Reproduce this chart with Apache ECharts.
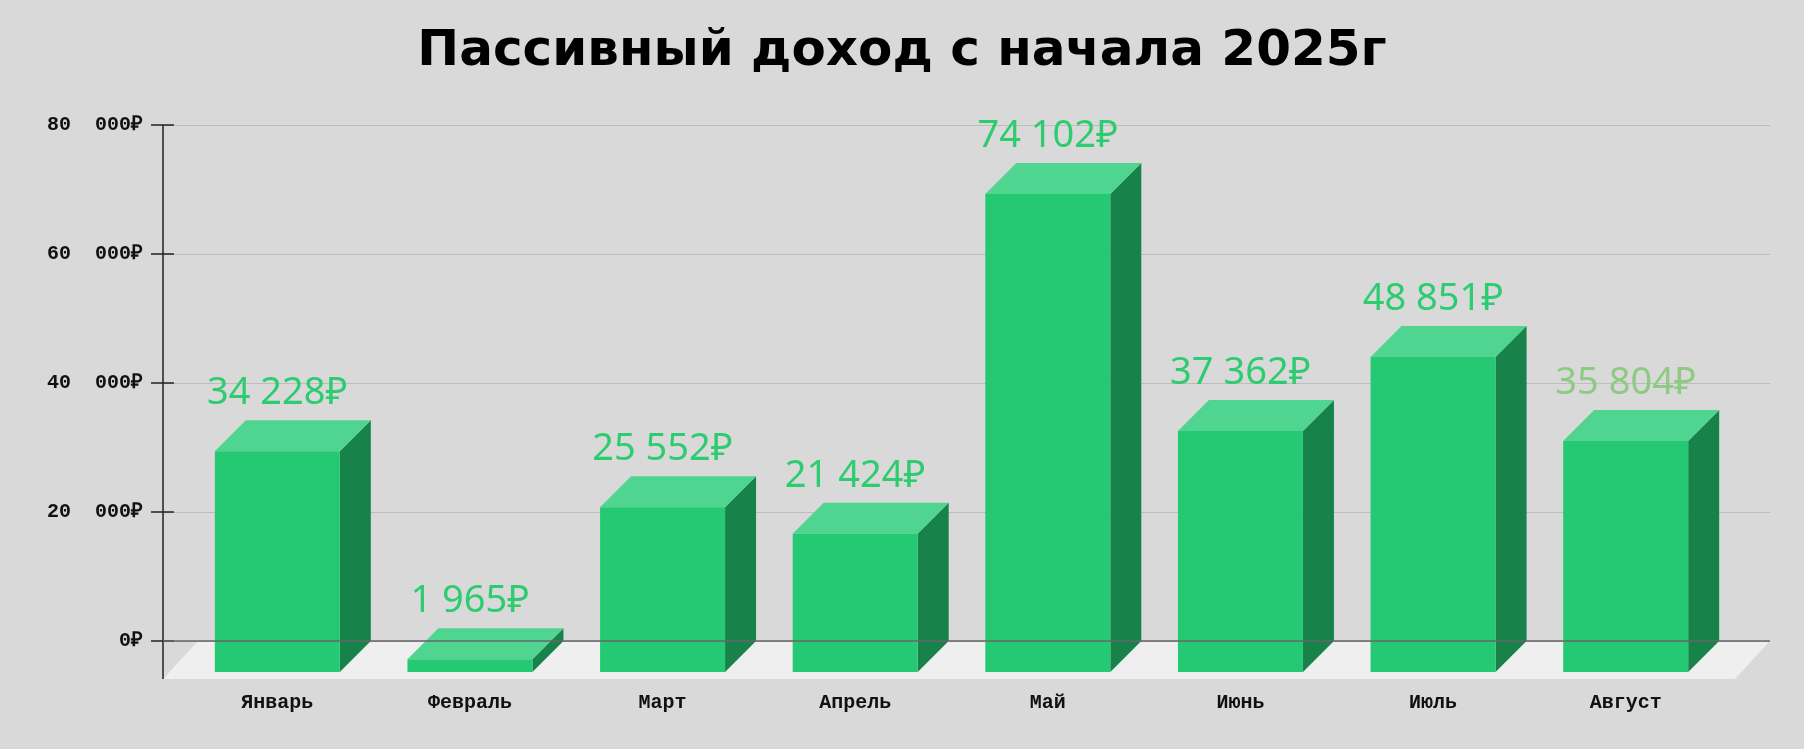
<!DOCTYPE html>
<html><head><meta charset="utf-8">
<script src="https://cdn.jsdelivr.net/npm/echarts@6/dist/echarts.min.js"></script>
<style>html,body{margin:0;background:#d9d9d9}#c{width:1804px;height:749px}</style>
</head><body><div id="c"></div>
<script>
const categories = ['Январь','Февраль','Март','Апрель','Май','Июнь','Июль','Август'];
const values = [34228, 1965, 25552, 21424, 74102, 37362, 48851, 35804];
const valueLabels = ['34 228₽','1 965₽','25 552₽','21 424₽','74 102₽','37 362₽','48 851₽','35 804₽'];
const yTickValues = [0, 20000, 40000, 60000, 80000];
const yTickLabels = ['0₽','20  000₽','40  000₽','60  000₽','80  000₽'];

const D = 31, HALF = 62.5;
const chart = echarts.init(document.getElementById('c'));
chart.setOption({
  backgroundColor: '#d9d9d9',
  animation: false,
  title: {text: 'Пассивный доход с начала 2025г', left: 'center', top: 22,
    textStyle: {fontFamily: 'DejaVu Sans', fontWeight: 'bold', fontSize: 50, color: '#000'}},
  graphic: [{type: 'polygon', z: 0, shape: {points: [[198,641],[1770,641],[1735,679],[163,679]]},
    style: {fill: '#efefef'}},
    {type:'line', z: 5, shape:{x1:163,y1:125,x2:163,y2:679}, style:{stroke:'#222',lineWidth:1.5}}],
  grid: [{left: 163, right: 34, top: 125, bottom: 108},
         {left: 212, right: 51, top: 125, bottom: 108}],
  xAxis: [{type: 'category', gridIndex: 0, data: categories, show: false},
          {type: 'category', gridIndex: 1, data: categories, show: false}],
  yAxis: [{type: 'value', gridIndex: 0, min: 0, max: 80000, interval: 20000,
           axisLine: {show: false}, axisTick: {show: true, length: 12, lineStyle: {color: '#222', width: 1.5}},
           splitLine: {lineStyle: {color: '#bdbdbd', width: 1.2}},
           axisLabel: {margin: 20, fontFamily: 'Liberation Mono', fontWeight: 'bold', fontSize: 20, color: '#111',
             formatter: v => yTickLabels[yTickValues.indexOf(v)]}},
          {type: 'value', gridIndex: 0, min: 0, max: 80000, interval: 20000, position: 'left',
           axisLine: {show: false}, axisTick: {show: true, inside: true, length: 11, lineStyle: {color: '#222', width: 1.5}},
           splitLine: {show: false}, axisLabel: {show: false}},
          {type: 'value', gridIndex: 1, min: 0, max: 80000, show: false}],
  series: [{
    type: 'line', xAxisIndex: 0, yAxisIndex: 0, data: [], silent: true,
    markLine: {symbol: 'none', silent: true, label: {show: false}, lineStyle: {color: '#666', type: 'solid', width: 1.5}, data: [{yAxis: 0}]}
  }, {
    type: 'custom', xAxisIndex: 1, yAxisIndex: 2, z: 3,
    data: values.map((v, i) => [i, v]),
    renderItem: (params, api) => {
      const i = api.value(0);
      const top = api.coord([i, api.value(1)]);
      const base = api.coord([i, 0]);
      const cx = top[0], ty = top[1], by = base[1];
      const fl = cx - HALF - D, fr = cx + HALF - D;
      return {type: 'group', children: [
        {type: 'polygon', shape: {points: [[fr, ty + D],[cx + HALF, ty],[cx + HALF, by],[fr, by + D]]}, style: {fill: '#17834b'}},
        {type: 'polygon', shape: {points: [[fl, ty + D],[fr, ty + D],[cx + HALF, ty],[cx - HALF, ty]]}, style: {fill: '#4fd58f'}},
        {type: 'rect', shape: {x: fl, y: ty + D, width: fr - fl, height: by - ty}, style: {fill: '#25c973'}},
        {type: 'text', x: cx - D, y: ty - 8, style: {text: valueLabels[i], align: 'center', verticalAlign: 'bottom',
          fontFamily: 'Noto Sans', fontSize: 38, fill: i === 7 ? '#8fca84' : '#2ecc71'}},
        {type: 'text', x: cx - D, y: by + 62, style: {text: categories[i], align: 'center', verticalAlign: 'middle',
          fontFamily: 'Liberation Mono', fontWeight: 'bold', fontSize: 20, fill: '#111'}}
      ]};
    }
  }]
});
</script></body></html>
